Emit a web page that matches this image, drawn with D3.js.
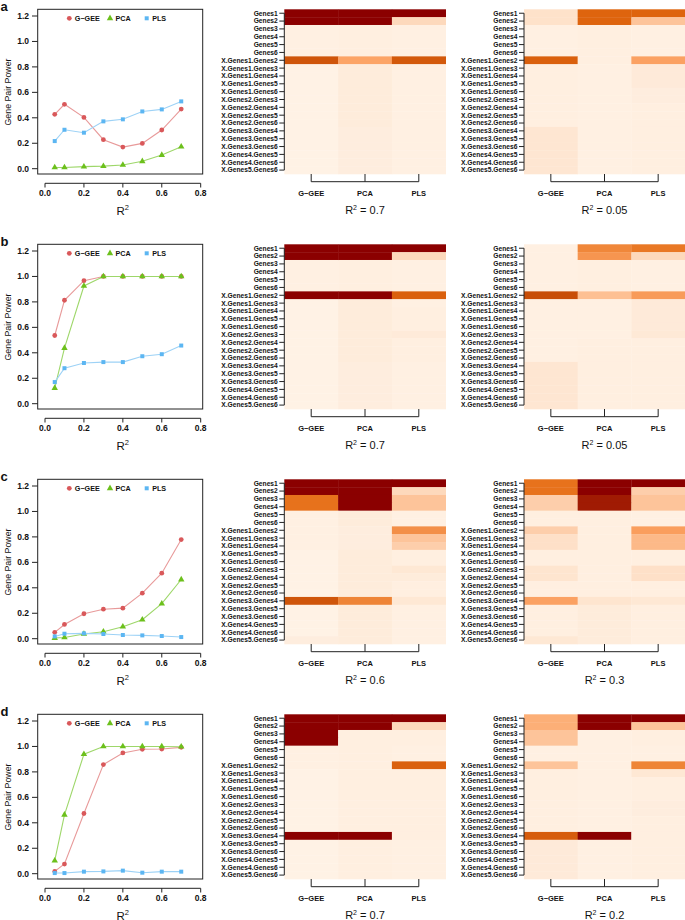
<!DOCTYPE html>
<html><head><meta charset="utf-8">
<script src="https://cdn.jsdelivr.net/npm/d3@7"></script>
<style>
body{margin:0;background:#fff}
svg{display:block}
text{font-family:"Liberation Sans",Arial,Helvetica,sans-serif;fill:#111}
</style>
</head><body>
<svg id="chart" width="685" height="920"></svg>
<script>
// ---------------- DATA ----------------
const r2 = [0.05, 0.1, 0.2, 0.3, 0.4, 0.5, 0.6, 0.7];
const xTicks = [0, 0.2, 0.4, 0.6, 0.8];
const yTicks = [0, 0.2, 0.4, 0.6, 0.8, 1.0, 1.2];
const seriesNames = ["G\u2212GEE", "PCA", "PLS"];
const methods = ["G\u2212GEE", "PCA", "PLS"];
const rowLabels = ["Genes1","Genes2","Genes3","Genes4","Genes5","Genes6",
  "X.Genes1.Genes2","X.Genes1.Genes3","X.Genes1.Genes4","X.Genes1.Genes5","X.Genes1.Genes6",
  "X.Genes2.Genes3","X.Genes2.Genes4","X.Genes2.Genes5","X.Genes2.Genes6",
  "X.Genes3.Genes4","X.Genes3.Genes5","X.Genes3.Genes6",
  "X.Genes4.Genes5","X.Genes4.Genes6","X.Genes5.Genes6"];
const panelLetters = ["a", "b", "c", "d"];
const leftHeatR2 = ["0.7", "0.7", "0.6", "0.7"];
const rightHeatR2 = ["0.05", "0.05", "0.3", "0.2"];

// line chart series (Gene Pair Power)
const ggeeA = [0.427, 0.506, 0.403, 0.228, 0.170, 0.199, 0.304, 0.469];
const pcaA  = [0.010, 0.010, 0.016, 0.020, 0.029, 0.058, 0.107, 0.173];
const plsA  = [0.217, 0.306, 0.283, 0.372, 0.388, 0.450, 0.466, 0.529];

const ggeeB = [0.536, 0.813, 0.967, 1.0, 1.0, 1.0, 1.0, 1.0];
const pcaB  = [0.123, 0.437, 0.925, 1.0, 1.0, 1.0, 1.0, 1.0];
const plsB  = [0.170, 0.279, 0.320, 0.327, 0.327, 0.373, 0.389, 0.457];

const ggeeC = [0.050, 0.112, 0.196, 0.232, 0.240, 0.358, 0.515, 0.779];
const pcaC  = [0.005, 0.010, 0.037, 0.055, 0.094, 0.149, 0.275, 0.465];
const plsC  = [0.018, 0.039, 0.042, 0.037, 0.029, 0.026, 0.021, 0.013];

const ggeeD = [0.018, 0.076, 0.473, 0.858, 0.949, 0.978, 0.980, 0.993];
const pcaD  = [0.102, 0.463, 0.939, 1.0, 1.0, 1.0, 1.0, 0.998];
const plsD  = [0.005, 0.005, 0.016, 0.018, 0.024, 0.008, 0.016, 0.016];

// heatmaps: rows follow rowLabels, columns G-GEE, PCA, PLS
const heatA1 = [[1,1,1],[1,1,0.2],[0.04,0.05,0.04],[0.04,0.05,0.04],[0.04,0.05,0.04],[0.04,0.05,0.04],
  [0.76,0.45,0.74],[0.03,0.07,0.04],[0.03,0.07,0.04],[0.03,0.07,0.04],[0.03,0.07,0.04],
  [0.03,0.07,0.04],[0.03,0.07,0.04],[0.03,0.07,0.04],[0.03,0.07,0.04],
  [0.03,0.06,0.04],[0.03,0.06,0.04],[0.03,0.06,0.04],[0.03,0.06,0.04],[0.03,0.06,0.04],[0.03,0.06,0.04]];
const heatA2 = [[0.14,0.68,0.68],[0.14,0.68,0.3],[0.04,0.05,0.04],[0.04,0.05,0.04],[0.04,0.05,0.04],[0.04,0.05,0.04],
  [0.7,0.05,0.46],[0.05,0.04,0.08],[0.05,0.04,0.08],[0.05,0.04,0.08],[0.05,0.04,0.06],
  [0.05,0.04,0.06],[0.05,0.04,0.05],[0.05,0.04,0.05],[0.05,0.04,0.05],
  [0.11,0.04,0.05],[0.11,0.04,0.05],[0.11,0.04,0.05],[0.11,0.04,0.05],[0.11,0.04,0.05],[0.11,0.04,0.05]];
const heatB1 = [[1,1,1],[1,1,0.2],[0.04,0.05,0.04],[0.04,0.05,0.04],[0.04,0.05,0.04],[0.04,0.05,0.04],
  [1,1,0.7],[0.03,0.07,0.04],[0.03,0.07,0.05],[0.03,0.07,0.05],[0.03,0.07,0.05],
  [0.03,0.07,0.08],[0.03,0.07,0.05],[0.03,0.07,0.05],[0.03,0.07,0.05],
  [0.03,0.06,0.04],[0.03,0.06,0.04],[0.03,0.06,0.04],[0.03,0.06,0.04],[0.03,0.06,0.04],[0.03,0.06,0.04]];
const heatB2 = [[0.04,0.55,0.6],[0.04,0.5,0.2],[0.04,0.05,0.04],[0.04,0.05,0.04],[0.04,0.05,0.04],[0.04,0.05,0.04],
  [0.8,0.32,0.48],[0.04,0.04,0.08],[0.04,0.04,0.08],[0.04,0.04,0.08],[0.04,0.04,0.08],
  [0.04,0.04,0.09],[0.04,0.05,0.05],[0.04,0.05,0.05],[0.04,0.05,0.05],
  [0.11,0.05,0.05],[0.11,0.05,0.05],[0.11,0.05,0.05],[0.11,0.05,0.05],[0.11,0.05,0.05],[0.11,0.05,0.05]];
const heatC1 = [[1,1,1],[1,1,0.2],[0.62,1,0.3],[0.62,1,0.3],[0.04,0.07,0.04],[0.04,0.07,0.04],
  [0.04,0.06,0.52],[0.04,0.06,0.3],[0.04,0.06,0.25],[0.03,0.07,0.05],[0.03,0.07,0.05],
  [0.03,0.07,0.1],[0.03,0.07,0.07],[0.03,0.07,0.05],[0.03,0.07,0.05],
  [0.76,0.56,0.1],[0.03,0.07,0.04],[0.03,0.07,0.04],[0.03,0.07,0.04],[0.03,0.07,0.04],[0.06,0.07,0.04]];
const heatC2 = [[0.62,1,1],[0.62,1,0.25],[0.25,0.93,0.3],[0.25,0.93,0.3],[0.05,0.05,0.04],[0.05,0.05,0.04],
  [0.25,0.05,0.47],[0.15,0.05,0.35],[0.15,0.05,0.35],[0.05,0.05,0.05],[0.05,0.05,0.05],
  [0.12,0.05,0.15],[0.12,0.05,0.15],[0.05,0.05,0.05],[0.05,0.05,0.05],
  [0.46,0.12,0.1],[0.05,0.07,0.05],[0.05,0.07,0.05],[0.05,0.07,0.05],[0.05,0.07,0.05],[0.1,0.07,0.05]];
const heatD1 = [[1,1,1],[1,1,0.2],[1,0.05,0.05],[1,0.05,0.05],[0.04,0.05,0.04],[0.04,0.05,0.04],
  [0.04,0.05,0.7],[0.03,0.05,0.05],[0.03,0.05,0.05],[0.03,0.05,0.05],[0.03,0.05,0.05],
  [0.03,0.05,0.05],[0.03,0.05,0.05],[0.03,0.05,0.05],[0.03,0.05,0.05],
  [1,1,0.05],[0.03,0.05,0.04],[0.03,0.05,0.04],[0.03,0.05,0.04],[0.03,0.05,0.04],[0.03,0.05,0.04]];
const heatD2 = [[0.4,1,1],[0.4,1,0.3],[0.3,0.04,0.05],[0.3,0.04,0.05],[0.04,0.04,0.04],[0.04,0.04,0.04],
  [0.3,0.04,0.56],[0.05,0.04,0.1],[0.05,0.04,0.05],[0.05,0.04,0.05],[0.05,0.04,0.05],
  [0.05,0.04,0.06],[0.05,0.04,0.06],[0.05,0.04,0.05],[0.05,0.04,0.05],
  [0.72,1,0.05],[0.08,0.04,0.05],[0.08,0.04,0.05],[0.08,0.04,0.05],[0.08,0.04,0.05],[0.08,0.04,0.05]];

const panels = [
  {letter: panelLetters[0], lines: [ggeeA, pcaA, plsA], h1: heatA1, h2: heatA2, t1: leftHeatR2[0], t2: rightHeatR2[0]},
  {letter: panelLetters[1], lines: [ggeeB, pcaB, plsB], h1: heatB1, h2: heatB2, t1: leftHeatR2[1], t2: rightHeatR2[1]},
  {letter: panelLetters[2], lines: [ggeeC, pcaC, plsC], h1: heatC1, h2: heatC2, t1: leftHeatR2[2], t2: rightHeatR2[2]},
  {letter: panelLetters[3], lines: [ggeeD, pcaD, plsD], h1: heatD1, h2: heatD2, t1: leftHeatR2[3], t2: rightHeatR2[3]}
];

// ---------------- STYLE ----------------
const seriesColors = ["#d9585a", "#6cc01c", "#5cb6f2"];
const lineColors = ["#e89a9a", "#9ed76a", "#9dd2f6"];
const heatColor = d3.scaleLinear()
  .domain([0, 0.2, 0.45, 0.65, 0.8, 1])
  .range(["#fff6ec", "#fdd9bc", "#fca466", "#e3690f", "#c84e08", "#8b0000"])
  .clamp(true);

const svg = d3.select("#chart");
const PANEL_H = 235;

function drawLineChart(g, p) {
  const x = d3.scaleLinear().domain([0, 0.8]).range([45, 200.7]);
  const y = d3.scaleLinear().domain([0, 1.2]).range([168.7, 16]);
  // box
  g.append("rect").attr("x", 37.7).attr("y", 9.3).attr("width", 165).attr("height", 164.7)
    .attr("fill", "none").attr("stroke", "#222").attr("stroke-width", 1);
  // y axis
  yTicks.forEach(t => {
    g.append("line").attr("x1", 32).attr("x2", 37.7).attr("y1", y(t)).attr("y2", y(t))
      .attr("stroke", "#222").attr("stroke-width", 1);
    g.append("text").attr("x", 29).attr("y", y(t)).attr("dy", "0.35em")
      .attr("text-anchor", "end").attr("font-size", 8.5).attr("font-weight", "bold").attr("fill", "#222")
      .text(d3.format(".1f")(t));
  });
  // x axis (detached)
  g.append("line").attr("x1", x(0)).attr("x2", x(0.8)).attr("y1", 183.3).attr("y2", 183.3)
    .attr("stroke", "#222").attr("stroke-width", 1);
  xTicks.forEach(t => {
    g.append("line").attr("x1", x(t)).attr("x2", x(t)).attr("y1", 183.3).attr("y2", 187.5)
      .attr("stroke", "#222").attr("stroke-width", 1);
    g.append("text").attr("x", x(t)).attr("y", 196.3).attr("text-anchor", "middle")
      .attr("font-size", 8.5).attr("font-weight", "bold").attr("fill", "#222").text(d3.format(".1f")(t));
  });
  // axis titles
  const xt = g.append("text").attr("x", 122.7).attr("y", 214.5).attr("text-anchor", "middle")
    .attr("font-size", 11.5);
  xt.append("tspan").text("R");
  xt.append("tspan").attr("dy", -4.5).attr("font-size", 7.5).text("2");
  g.append("text").attr("transform", "translate(11,92) rotate(-90)").attr("text-anchor", "middle")
    .attr("font-size", 8.8).text("Gene Pair Power");

  // series
  const symbols = [d3.symbolCircle, d3.symbolTriangle, d3.symbolSquare];
  const sizes = [18, 18, 16];
  p.lines.forEach((vals, i) => {
    const pts = r2.map((r, k) => [x(r), y(vals[k])]);
    g.append("path").attr("d", d3.line()(pts)).attr("fill", "none")
      .attr("stroke", lineColors[i]).attr("stroke-width", 1.1);
    pts.forEach(pt => {
      g.append("path").attr("d", d3.symbol().type(symbols[i]).size(sizes[i])())
        .attr("transform", `translate(${pt[0]},${pt[1]})`).attr("fill", seriesColors[i]);
    });
  });
  // legend
  const legX = [69.3, 110, 146.7];
  seriesNames.forEach((n, i) => {
    g.append("path").attr("d", d3.symbol().type(symbols[i]).size(sizes[i])())
      .attr("transform", `translate(${legX[i]},18.3)`).attr("fill", seriesColors[i]);
    g.append("text").attr("x", legX[i] + 5.5).attr("y", 18.3).attr("dy", "0.35em")
      .attr("font-size", 7.2).attr("font-weight", "bold").attr("fill", "#333").text(n);
  });
}

function drawHeatmap(g, data, x0, w, r2label) {
  const xs = d3.scaleBand().domain(methods).range([x0, x0 + w]);
  const ys = d3.scaleBand().domain(rowLabels).range([9.3, 174]);
  data.forEach((row, ri) => {
    row.forEach((v, ci) => {
      g.append("rect").attr("x", xs(methods[ci])).attr("y", ys(rowLabels[ri]))
        .attr("width", xs.bandwidth() + 0.3).attr("height", ys.bandwidth() + 0.3)
        .attr("fill", heatColor(v));
    });
  });
  const yc = r => ys(r) + ys.bandwidth() / 2;
  const xc = m => xs(m) + xs.bandwidth() / 2;
  // row axis
  g.append("line").attr("x1", x0).attr("x2", x0).attr("y1", yc(rowLabels[0])).attr("y2", yc(rowLabels[rowLabels.length - 1]))
    .attr("stroke", "#222").attr("stroke-width", 1);
  rowLabels.forEach(r => {
    g.append("line").attr("x1", x0 - 5).attr("x2", x0).attr("y1", yc(r)).attr("y2", yc(r))
      .attr("stroke", "#222").attr("stroke-width", 1);
    g.append("text").attr("x", x0 - 6.5).attr("y", yc(r)).attr("dy", "0.36em")
      .attr("text-anchor", "end").attr("font-size", 6.7).attr("font-weight", "bold").attr("fill", "#222").text(r);
  });
  // column axis
  g.append("line").attr("x1", xc(methods[0])).attr("x2", xc(methods[2])).attr("y1", 181.7).attr("y2", 181.7)
    .attr("stroke", "#222").attr("stroke-width", 1);
  methods.forEach(m => {
    g.append("line").attr("x1", xc(m)).attr("x2", xc(m)).attr("y1", 174).attr("y2", 181.7)
      .attr("stroke", "#222").attr("stroke-width", 1);
    g.append("text").attr("x", xc(m)).attr("y", 196).attr("text-anchor", "middle")
      .attr("font-size", 7.5).attr("font-weight", "bold").attr("fill", "#333").text(m);
  });
  const t = g.append("text").attr("x", xc(methods[1])).attr("y", 214).attr("text-anchor", "middle")
    .attr("font-size", 11);
  t.append("tspan").text("R");
  t.append("tspan").attr("dy", -4.5).attr("font-size", 7).text("2");
  t.append("tspan").attr("dy", 4.5).text(" = " + r2label);
}

panels.forEach((p, i) => {
  const g = svg.append("g").attr("transform", `translate(0,${i * PANEL_H})`);
  g.append("text").attr("x", 0.5).attr("y", 10.5).attr("font-size", 13).attr("font-weight", "bold").text(p.letter);
  drawLineChart(g, p);
  drawHeatmap(g, p.h1, 284.3, 161.4, p.t1);
  drawHeatmap(g, p.h2, 524, 161, p.t2);
});
</script>
</body></html>
